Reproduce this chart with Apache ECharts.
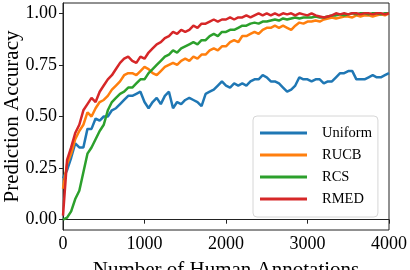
<!DOCTYPE html>
<html>
<head>
<meta charset="utf-8">
<script src="https://cdn.jsdelivr.net/npm/echarts@6/dist/echarts.min.js"></script>
<style>html,body{margin:0;padding:0;background:#fff}#c{width:410px;height:270px}</style>
</head>
<body>
<div id="c"></div>
<script>
const xs = [0,50,100,150,200,250,300,350,400,450,500,550,600,650,700,750,800,850,900,950,
1000,1050,1100,1150,1200,1250,1300,1350,1400,1450,1500,1550,1600,1650,1700,1750,1800,1850,1900,1950,
2000,2050,2100,2150,2200,2250,2300,2350,2400,2450,2500,2550,2600,2650,2700,2750,2800,2850,2900,2950,
3000,3050,3100,3150,3200,3250,3300,3350,3400,3450,3500,3550,3600,3650,3700,3750,3800,3850,3900,3950,4000];

const uniform = [0.20,0.24,0.30,0.37,0.35,0.35,0.44,0.44,0.49,0.48,
0.50,0.50,0.53,0.54,0.56,0.58,0.60,0.60,0.61,0.62,
0.57,0.54,0.57,0.59,0.56,0.60,0.62,0.54,0.57,0.56,
0.58,0.59,0.58,0.57,0.55,0.61,0.62,0.63,0.65,0.67,
0.65,0.64,0.66,0.65,0.66,0.65,0.67,0.68,0.68,0.70,
0.69,0.67,0.67,0.66,0.64,0.62,0.63,0.65,0.69,0.68,
0.68,0.67,0.68,0.68,0.66,0.67,0.67,0.69,0.71,0.71,
0.72,0.72,0.68,0.68,0.68,0.69,0.70,0.69,0.69,0.70,0.71];

const rucb = [0.15,0.27,0.32,0.39,0.43,0.46,0.52,0.50,0.54,0.57,
0.58,0.60,0.63,0.65,0.67,0.70,0.71,0.71,0.70,0.72,
0.74,0.73,0.71,0.70,0.72,0.74,0.75,0.76,0.75,0.77,
0.78,0.77,0.79,0.78,0.80,0.80,0.82,0.83,0.82,0.84,
0.84,0.86,0.87,0.86,0.89,0.89,0.90,0.91,0.90,0.92,
0.93,0.93,0.94,0.93,0.94,0.93,0.92,0.94,0.955,0.95,
0.96,0.96,0.965,0.96,0.97,0.975,0.98,0.975,0.98,0.985,
0.985,0.98,0.99,0.985,0.99,0.99,0.985,0.99,0.995,0.99,1.00];

const rcs = [0.00,0.01,0.04,0.10,0.14,0.23,0.32,0.35,0.39,0.43,
0.46,0.53,0.57,0.59,0.61,0.62,0.64,0.64,0.66,0.68,
0.68,0.71,0.73,0.75,0.77,0.79,0.80,0.82,0.81,0.83,
0.84,0.85,0.86,0.85,0.87,0.87,0.89,0.90,0.89,0.91,
0.91,0.92,0.92,0.93,0.94,0.94,0.95,0.955,0.95,0.96,
0.96,0.965,0.97,0.965,0.975,0.97,0.975,0.98,0.975,0.98,
0.98,0.98,0.985,0.98,0.98,0.985,0.99,0.99,0.995,0.99,
0.995,1.0,0.995,1.0,1.0,0.995,1.0,1.0,0.995,1.0,1.0];

const rmed = [0.02,0.29,0.35,0.42,0.46,0.53,0.56,0.59,0.57,0.62,
0.65,0.68,0.70,0.73,0.76,0.78,0.79,0.77,0.76,0.79,
0.78,0.81,0.83,0.85,0.86,0.88,0.89,0.91,0.90,0.92,
0.91,0.92,0.94,0.93,0.95,0.95,0.96,0.97,0.96,0.97,
0.97,0.98,0.97,0.98,0.98,0.99,0.98,0.99,1.00,0.99,
1.00,0.99,1.00,0.99,1.00,0.995,1.00,0.99,1.00,0.995,
0.99,1.00,0.99,0.985,0.98,0.985,0.99,1.00,0.995,1.00,
0.995,1.00,1.00,0.995,1.00,1.00,0.995,1.00,1.00,0.995,1.00];

const seriesNames = ['Uniform','RUCB','RCS','RMED'];
const seriesValues = [uniform, rucb, rcs, rmed];
const colors = ['#1f77b4','#ff7f0e','#2ca02c','#d62728'];
const yTicks = [0, 0.25, 0.5, 0.75, 1.0];
const xTicks = [0, 1000, 2000, 3000, 4000];

const FONT = 'Liberation Serif';
const chart = echarts.init(document.getElementById('c'), null, {renderer:'canvas'});
chart.setOption({
  animation: false,
  grid: {left: 63, right: 21, top: 3, bottom: 40, containLabel: false, outerBoundsMode: 'none',
         show: true, borderColor: '#222', borderWidth: 1, backgroundColor: 'transparent'},
  legend: {
    orient: 'vertical', left: 253, top: 116,
    data: seriesNames,
    icon: 'rect', itemWidth: 47, itemHeight: 3, itemGap: 6,
    padding: [9, 6, 10, 7],
    backgroundColor: '#fff', borderColor: '#d6d6d6', borderWidth: 1, borderRadius: 4,
    textStyle: {fontFamily: FONT, fontSize: 14.5, color: '#000', lineHeight: 16, padding: [0,0,0,10]}
  },
  xAxis: {
    type: 'value', min: 0, max: 4000,
    axisLine: {show: true, lineStyle: {color: '#222', width: 1}},
    axisTick: {show: true, length: 4, lineStyle: {color: '#222'}, customValues: xTicks},
    axisLabel: {fontFamily: FONT, fontSize: 18, color: '#000', margin: 5, customValues: xTicks, formatter: v => String(v)},
    splitLine: {show: false},
    name: 'Number of Human Annotations', nameLocation: 'middle', nameGap: 30, nameMoveOverlap: false,
    nameTextStyle: {fontFamily: FONT, fontSize: 21, color: '#000'}
  },
  yAxis: {
    type: 'value', min: -0.05, max: 1.05,
    axisLine: {show: true, lineStyle: {color: '#222', width: 1}},
    axisTick: {show: true, length: 4, lineStyle: {color: '#222'}, customValues: yTicks},
    axisLabel: {fontFamily: FONT, fontSize: 18, color: '#000', margin: 6, customValues: yTicks, formatter: v => v.toFixed(2)},
    splitLine: {show: false},
    name: 'Prediction Accuracy', nameLocation: 'middle', nameGap: 40, nameRotate: 90, nameMoveOverlap: false,
    nameTextStyle: {fontFamily: FONT, fontSize: 21, color: '#000'}
  },
  series: seriesNames.map((n, k) => ({
    name: n, type: 'line', showSymbol: false, symbol: 'none',
    data: xs.map((x, i) => [x, seriesValues[k][i]]),
    lineStyle: {color: colors[k], width: 2.5},
    itemStyle: {color: colors[k]}
  }))
});
</script>
</body>
</html>
